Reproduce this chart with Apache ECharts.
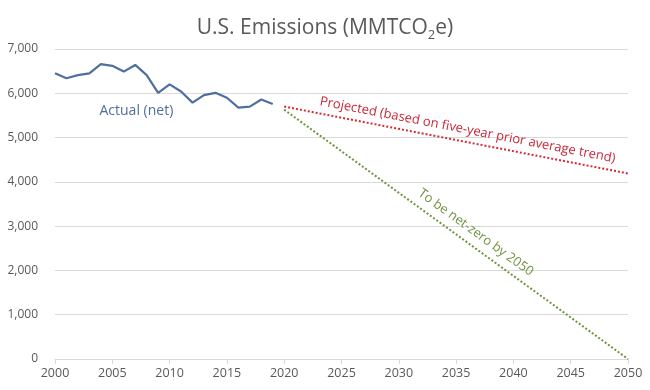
<!DOCTYPE html>
<html><head><meta charset="utf-8">
<script src="https://cdn.jsdelivr.net/npm/echarts@6/dist/echarts.min.js"></script>
<style>html,body{margin:0;padding:0;background:#fff}#c{width:650px;height:390px}</style>
</head><body><div id="c"></div>
<script>
var actualYears = [2000,2001,2002,2003,2004,2005,2006,2007,2008,2009,2010,2011,2012,2013,2014,2015,2016,2017,2018,2019];
var actualValues = [6450,6340,6410,6450,6660,6620,6490,6640,6410,6010,6200,6040,5790,5960,6010,5900,5675,5700,5860,5760];
var projectedYears = [2020, 2050];
var projectedValues = [5700, 4190];
var netZeroYears = [2020, 2050];
var netZeroValues = [5630, 0];
var yTicks = [0,1000,2000,3000,4000,5000,6000,7000];
var xTicks = [2000,2005,2010,2015,2020,2025,2030,2035,2040,2045,2050];

function pairs(xs, ys){ return xs.map(function(x,i){return [x, ys[i]];}); }

var FONT = '"Open Sans","Noto Sans",sans-serif';
var chart = echarts.init(document.getElementById('c'));
chart.setOption({
  animation: false,
  title: {
    text: '{a|U.S. Emissions (MMTCO}{s|2}{a|e)}',
    left: 'center', top: 9,
    textStyle: {
      fontWeight: 'normal',
      rich: {
        a: {fontFamily: FONT, fontSize: 21, fontWeight: 'normal', color: '#595959', lineHeight: 28, verticalAlign: 'middle'},
        s: {fontFamily: FONT, fontSize: 13, fontWeight: 'normal', color: '#595959', lineHeight: 14, padding: [14,0,0,0], verticalAlign: 'middle'}
      }
    }
  },
  grid: {left: 55, right: 22, top: 49, bottom: 31, containLabel: false},
  xAxis: {
    type: 'value', min: 2000, max: 2050, interval: 5,
    axisLine: {show: true, lineStyle: {color: '#d9d9d9'}},
    axisTick: {show: true, length: 5, inside: false, lineStyle: {color: '#d9d9d9'}},
    splitLine: {show: false},
    axisLabel: {color: '#595959', fontFamily: FONT, fontSize: 12.5, margin: 8,
      formatter: function(v){ return xTicks.indexOf(v) >= 0 ? String(v) : ''; }}
  },
  yAxis: {
    type: 'value', min: 0, max: 7000, interval: 1000,
    axisLine: {show: false}, axisTick: {show: false},
    splitLine: {lineStyle: {color: '#d9d9d9'}},
    axisLabel: {color: '#595959', fontFamily: FONT, fontSize: 12, margin: 17,
      formatter: function(v){ return yTicks.indexOf(v) >= 0 ? v.toLocaleString('en-US') : ''; }}
  },
  series: [
    {type: 'line', data: pairs(actualYears, actualValues), symbol: 'none',
     lineStyle: {color: '#4f6fa0', width: 2.2}},
    {type: 'line', data: pairs(projectedYears, projectedValues), symbol: 'none',
     lineStyle: {color: '#d42a36', width: 2, type: [2, 2]}},
    {type: 'line', data: pairs(netZeroYears, netZeroValues), symbol: 'none',
     lineStyle: {color: '#6f9440', width: 2, type: [2, 2]}}
  ]
});

function px(x, y){ return chart.convertToPixel({gridIndex: 0}, [x, y]); }
function along(xs, ys, t, offset){
  var a = px(xs[0], ys[0]), b = px(xs[1], ys[1]);
  var dx = b[0]-a[0], dy = b[1]-a[1], L = Math.sqrt(dx*dx+dy*dy);
  var nx = dy/L, ny = -dx/L;
  return {x: a[0]+dx*t + nx*offset, y: a[1]+dy*t + ny*offset, rot: -Math.atan2(dy, dx)};
}
var p = along(projectedYears, projectedValues, 0.527, 12);
var g = along(netZeroYears, netZeroValues, 0.535, 13);
var lbl = px(2007.1, 5600);
chart.setOption({
  graphic: [
    {type: 'text', x: lbl[0], y: lbl[1], style: {text: 'Actual (net)', fill: '#4f6fa0', font: '14px ' + FONT, align: 'center', verticalAlign: 'middle'}},
    {type: 'text', x: p.x, y: p.y, rotation: p.rot, style: {text: 'Projected (based on five-year prior average trend)', fill: '#c8283a', font: '13px ' + FONT, align: 'center', verticalAlign: 'middle'}},
    {type: 'text', x: g.x, y: g.y, rotation: g.rot, style: {text: 'To be net-zero by 2050', fill: '#6f9440', font: '13px ' + FONT, align: 'center', verticalAlign: 'middle'}}
  ]
});
</script></body></html>
